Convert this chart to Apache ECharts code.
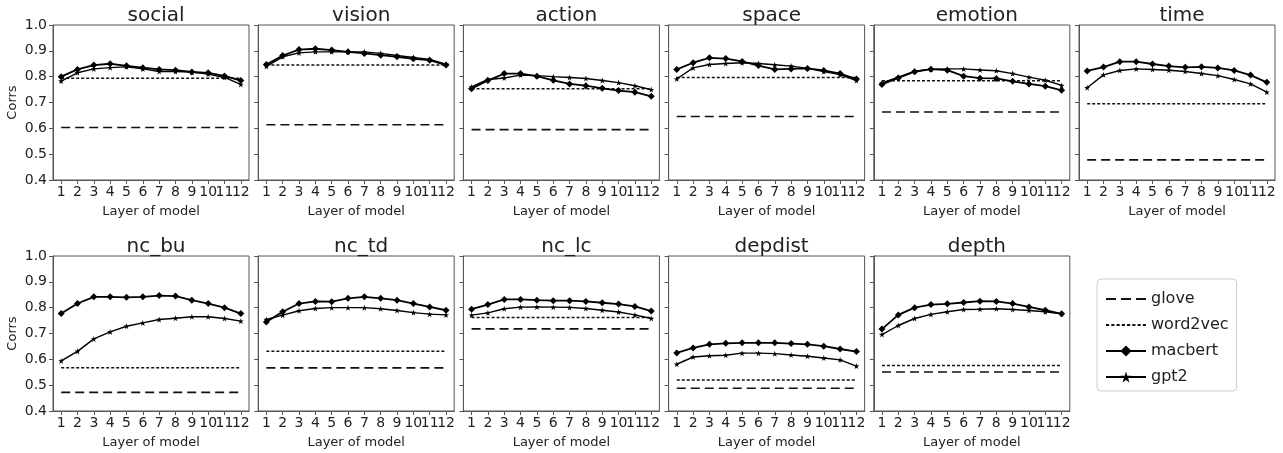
<!DOCTYPE html>
<html><head><meta charset="utf-8">
<script src="https://cdn.jsdelivr.net/npm/echarts@6/dist/echarts.min.js"></script>
<style>html,body{margin:0;padding:0;background:#fff}#c{width:1283px;height:453px}</style>
</head><body><div id="c"></div>
<script>
const layers = ['1','2','3','4','5','6','7','8','9','10','11','12'];
const yTicks = [0.4,0.5,0.6,0.7,0.8,0.9,1.0];
const panels = ['social','vision','action','space','emotion','time','nc_bu','nc_td','nc_lc','depdist','depth'];
const glove    = [0.603,0.614,0.595,0.646,0.663,0.478,0.472,0.567,0.718,0.488,0.551];
const word2vec = [0.794,0.845,0.753,0.797,0.784,0.695,0.567,0.631,0.762,0.520,0.576];

const macbert_social  = [0.800,0.828,0.845,0.850,0.842,0.835,0.828,0.825,0.818,0.815,0.803,0.785];
const gpt2_social     = [0.783,0.815,0.830,0.835,0.838,0.830,0.820,0.820,0.818,0.810,0.797,0.770];
const macbert_vision  = [0.847,0.882,0.905,0.908,0.903,0.896,0.890,0.883,0.877,0.869,0.864,0.845];
const gpt2_vision     = [0.840,0.877,0.892,0.896,0.896,0.896,0.896,0.890,0.882,0.874,0.867,0.848];
const macbert_action  = [0.753,0.785,0.812,0.812,0.802,0.786,0.772,0.765,0.755,0.746,0.740,0.724];
const gpt2_action     = [0.760,0.789,0.795,0.806,0.804,0.800,0.797,0.793,0.785,0.777,0.765,0.750];
const macbert_space   = [0.828,0.854,0.873,0.870,0.859,0.843,0.828,0.830,0.832,0.824,0.812,0.791];
const gpt2_space      = [0.791,0.834,0.847,0.851,0.854,0.851,0.846,0.841,0.832,0.820,0.808,0.785];
const macbert_emotion = [0.770,0.795,0.819,0.829,0.825,0.802,0.794,0.793,0.782,0.772,0.763,0.747];
const gpt2_emotion    = [0.776,0.798,0.821,0.829,0.830,0.830,0.826,0.823,0.812,0.798,0.786,0.766];
const macbert_time    = [0.822,0.837,0.858,0.858,0.849,0.841,0.836,0.838,0.834,0.824,0.806,0.778];
const gpt2_time       = [0.757,0.807,0.824,0.830,0.828,0.825,0.820,0.812,0.804,0.789,0.772,0.740];
const macbert_nc_bu   = [0.777,0.816,0.842,0.842,0.840,0.842,0.847,0.845,0.829,0.816,0.800,0.777];
const gpt2_nc_bu      = [0.594,0.631,0.679,0.706,0.728,0.741,0.754,0.759,0.765,0.765,0.758,0.748];
const macbert_nc_td   = [0.745,0.784,0.816,0.824,0.823,0.836,0.842,0.836,0.829,0.816,0.803,0.790];
const gpt2_nc_td      = [0.754,0.771,0.788,0.797,0.800,0.800,0.800,0.796,0.789,0.781,0.775,0.772];
const macbert_nc_lc   = [0.794,0.812,0.832,0.832,0.829,0.827,0.827,0.824,0.819,0.814,0.805,0.787];
const gpt2_nc_lc      = [0.771,0.780,0.796,0.802,0.803,0.802,0.801,0.797,0.790,0.783,0.772,0.758];
const macbert_depdist = [0.625,0.644,0.658,0.662,0.664,0.664,0.664,0.661,0.658,0.651,0.640,0.630];
const gpt2_depdist    = [0.581,0.609,0.614,0.616,0.624,0.624,0.622,0.617,0.612,0.605,0.598,0.574];
const macbert_depth   = [0.717,0.772,0.800,0.812,0.815,0.820,0.825,0.824,0.816,0.803,0.790,0.776];
const gpt2_depth      = [0.696,0.731,0.758,0.774,0.784,0.793,0.794,0.796,0.793,0.789,0.784,0.776];

const macbertAll = [macbert_social,macbert_vision,macbert_action,macbert_space,macbert_emotion,macbert_time,macbert_nc_bu,macbert_nc_td,macbert_nc_lc,macbert_depdist,macbert_depth];
const gpt2All = [gpt2_social,gpt2_vision,gpt2_action,gpt2_space,gpt2_emotion,gpt2_time,gpt2_nc_bu,gpt2_nc_td,gpt2_nc_lc,gpt2_depdist,gpt2_depth];

const star = 'path://M0,-100 L22.3,-30.7 L95.1,-30.9 L36.1,11.7 L58.8,80.9 L0,38 L-58.8,80.9 L-36.1,11.7 L-95.1,-30.9 L-22.3,-30.7 Z';
const longDashIcon = 'path://M0,0h10v1.8h-10z M15,0h10v1.8h-10z M30,0h10v1.8h-10z';
const shortDashIcon = 'path://M0,0h3v1.8h-3z M5,0h3v1.8h-3z M10,0h3v1.8h-3z M15,0h3v1.8h-3z M20,0h3v1.8h-3z M25,0h3v1.8h-3z M30,0h3v1.8h-3z M35,0h3v1.8h-3z';
const FONT = 'DejaVu Sans';
const TXT = '#222';
const AX = '#555';

const grids = [], xAxes = [], yAxes = [], series = [], titles = [];
panels.forEach((name, i) => {
  const col = i % 6, row = Math.floor(i / 6);
  const left = 53 + 205.2 * col;
  const top = row === 0 ? 25 : 256;
  grids.push({left: left, top: top, width: 196, height: 155, show: true, borderColor: AX, borderWidth: 1, containLabel: false});
  titles.push({text: name, left: left + 98, top: top - 24, textAlign: 'center',
    textStyle: {fontFamily: FONT, fontSize: 20, fontWeight: 'normal', color: TXT}});
  xAxes.push({type: 'category', gridIndex: i, data: layers, boundaryGap: true,
    name: 'Layer of model', nameLocation: 'middle', nameGap: 25,
    nameTextStyle: {fontFamily: FONT, fontSize: 13, color: TXT},
    axisLine: {show: true, lineStyle: {color: AX, width: 1}},
    axisTick: {show: true, length: 4, lineStyle: {color: AX}, interval: 0, alignWithLabel: true},
    axisLabel: {fontFamily: FONT, fontSize: 14, color: TXT, margin: 5, interval: 0},
    splitLine: {show: false}});
  const showY = col === 0;
  yAxes.push({type: 'value', gridIndex: i, min: 0.4, max: 1.0, interval: 0.1,
    name: showY ? 'Corrs' : '', nameLocation: 'middle', nameGap: 34,
    nameTextStyle: {fontFamily: FONT, fontSize: 13, color: TXT},
    axisLine: {show: true, lineStyle: {color: AX, width: 1}},
    axisTick: {show: true, length: 4, lineStyle: {color: AX}},
    axisLabel: {show: showY, fontFamily: FONT, fontSize: 14, color: TXT, margin: 6, formatter: v => v.toFixed(1)},
    splitLine: {show: false}});
  series.push({name: 'glove', type: 'line', xAxisIndex: i, yAxisIndex: i, symbol: 'none',
    data: [[layers[0], glove[i]], [layers[layers.length-1], glove[i]]],
    lineStyle: {color: '#111', width: 1.6, type: [9, 5]}, itemStyle: {color: '#111'}, silent: true, animation: false});
  series.push({name: 'word2vec', type: 'line', xAxisIndex: i, yAxisIndex: i, symbol: 'none',
    data: [[layers[0], word2vec[i]], [layers[layers.length-1], word2vec[i]]],
    lineStyle: {color: '#111', width: 1.5, type: [3, 2]}, itemStyle: {color: '#111'}, silent: true, animation: false});
  series.push({name: 'macbert', type: 'line', xAxisIndex: i, yAxisIndex: i, symbol: 'diamond', symbolSize: 7,
    data: layers.map((l, k) => [l, macbertAll[i][k]]),
    lineStyle: {color: '#000', width: 1.8}, itemStyle: {color: '#000'}, animation: false});
  series.push({name: 'gpt2', type: 'line', xAxisIndex: i, yAxisIndex: i, symbol: star, symbolSize: 6,
    data: layers.map((l, k) => [l, gpt2All[i][k]]),
    lineStyle: {color: '#000', width: 1.4}, itemStyle: {color: '#000'}, animation: false});
});

const chart = echarts.init(document.getElementById('c'), null, {renderer: 'canvas'});
chart.setOption({
  backgroundColor: '#fff',
  animation: false,
  title: titles,
  grid: grids,
  xAxis: xAxes,
  yAxis: yAxes,
  legend: {data: [{name: 'glove', icon: longDashIcon}, {name: 'word2vec', icon: shortDashIcon}, 'macbert', 'gpt2'],
    orient: 'vertical', left: 1097, top: 279,
    itemWidth: 40, itemHeight: 14, itemGap: 10, padding: [12, 8, 6, 8], itemTextGap: 6,
    borderColor: '#ccc', borderWidth: 1, borderRadius: 4, selectedMode: false,
    textStyle: {fontFamily: FONT, fontSize: 16, color: TXT}},
  series: series
});
</script></body></html>
